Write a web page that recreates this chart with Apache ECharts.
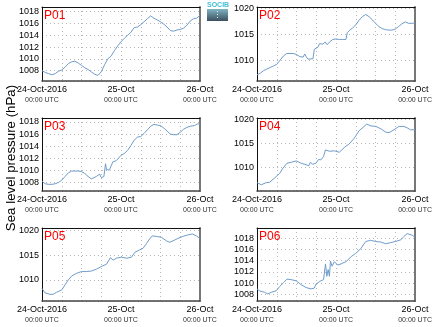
<!DOCTYPE html>
<html><head><meta charset="utf-8">
<script src="https://cdn.jsdelivr.net/npm/echarts@6/dist/echarts.min.js"></script>
<style>html,body{margin:0;padding:0;background:#fff}#c{width:435px;height:327px}</style>
</head><body><div id="c"></div>
<script>
// ---- data (hours since 24-Oct-2016 00:00 UTC, sea level pressure hPa) ----
const panelNames = ['P01','P02','P03','P04','P05','P06'];
const xTickHours = [0, 24, 48];
const xTickDates = ['24-Oct-2016', '25-Oct', '26-Oct'];
const xTickTimes = ['00:00 UTC', '00:00 UTC', '00:00 UTC'];
const yAxisTitle = 'Sea level pressure (hPa)';

const hoursP01 = [0,1,2,3,4,5,6,7,8,9,10,11,12,13,14,15,16,17,18,19,20,21,22,23,24,25,26,27,28,29,30,31,32,33,34,35,36,37,38,39,40,41,42,43,44,45,46,47,48];
const valuesP01 = [1008.0,1007.7,1007.5,1007.3,1007.5,1007.9,1008.1,1008.6,1009.2,1009.5,1009.6,1009.3,1008.9,1008.5,1008.2,1007.8,1007.4,1007.2,1007.8,1009.0,1010.0,1010.5,1011.4,1012.2,1012.9,1013.5,1014.0,1014.5,1015.3,1015.4,1015.8,1016.3,1016.8,1017.3,1016.9,1016.6,1016.3,1015.9,1015.4,1014.8,1014.7,1014.9,1015.0,1015.2,1015.7,1016.4,1016.8,1016.9,1017.4];

const hoursP02 = [0,1,2,3,4,5,6,7,8,9,10,11,12,13,13.5,14,14.5,15,15.5,16,17,17.4,18,18.5,19,19.5,20,20.7,21.3,22,23,24,25,26,27,27.4,28,29,30,31,32,33,34,35,36,37,38,39,40,41,42,43,44,45,46,47,48];
const valuesP02 = [1007.2,1007.5,1008.0,1008.3,1008.6,1008.9,1009.2,1010.0,1010.8,1011.3,1011.3,1011.3,1011.1,1010.7,1010.4,1010.6,1011.2,1010.6,1010.2,1010.1,1010.3,1012.1,1012.3,1012.5,1013.2,1012.9,1013.1,1013.5,1013.0,1013.5,1014.0,1014.1,1014.0,1014.0,1014.0,1015.3,1015.7,1016.2,1016.8,1017.7,1018.4,1018.8,1018.4,1017.8,1017.1,1016.5,1016.1,1015.9,1015.8,1015.8,1016.0,1016.5,1017.0,1017.4,1017.1,1017.1,1017.2];

const hoursP03 = [0,1,2,3,4,5,6,7,8,9,10,11,12,13,14,15,15.6,16.5,17.5,18,18.8,19.3,19.6,20.5,21.5,22.5,23.2,24,25,26,27,28,29,30,31,32,33,34,35,36,37,38,39,40,41,42,43,44,45,45.5,46.3,47.3,48];
const valuesP03 = [1008.2,1007.8,1007.7,1007.7,1007.8,1008.0,1008.4,1009.0,1009.6,1009.9,1009.9,1009.9,1009.8,1009.5,1009.0,1008.6,1008.4,1009.0,1009.4,1008.8,1009.0,1011.1,1010.1,1010.1,1011.4,1011.6,1012.0,1012.5,1012.8,1013.3,1014.1,1015.0,1015.5,1015.6,1016.1,1016.7,1017.3,1017.6,1017.5,1017.4,1017.0,1016.5,1016.0,1015.9,1015.9,1016.3,1016.8,1017.1,1017.3,1017.6,1017.4,1017.7,1017.6];

const hoursP04 = [0,1.3,2.8,3.8,5.3,6.9,7.9,9.1,10.4,11.9,13.4,14.9,15.7,16.2,16.9,17.9,18.7,19.4,20.2,20.8,22,23.5,25,26.5,28,29.5,31,32.2,33.3,34.6,36.1,37.6,39.1,40.1,41.6,43.1,44.6,45.6,46.6,48];
const valuesP04 = [1006.85,1006.4,1006.85,1006.9,1007.8,1008.8,1009.9,1010.9,1011.1,1011.4,1010.9,1010.6,1010.35,1011.1,1010.7,1010.9,1011.7,1011.6,1012.3,1013.7,1013.4,1013.5,1013.2,1014.2,1014.95,1016.1,1017.7,1018.4,1019.1,1018.7,1018.6,1018.1,1017.4,1017.3,1017.9,1018.6,1018.6,1018.3,1017.9,1017.9];

const hoursP05 = [0,0.9,2.4,3.4,4.4,6,7,8,9,10.5,12,13.5,15,16.6,18,19.6,20.8,21.6,22.6,24.1,25.7,26.2,27.2,28.2,29.7,30.7,31.8,32.7,33.5,34.8,36.3,37.8,38.8,39.8,41.3,42.8,44.3,45.7,46.9,48];
const valuesP05 = [1008.3,1007.4,1007.1,1007.1,1007.5,1008.0,1009.0,1010.0,1010.8,1011.35,1011.7,1011.7,1011.8,1012.2,1012.7,1013.2,1014.5,1014.0,1014.4,1014.6,1014.4,1014.2,1014.6,1015.6,1016.1,1016.4,1017.4,1018.3,1018.9,1018.8,1018.6,1017.9,1017.6,1017.9,1018.4,1018.8,1019.1,1019.3,1018.9,1018.4];

const hoursP06 = [0,0.8,2.3,3.3,4.3,5.8,6.9,8.1,9.1,10.4,11.9,13.4,14.9,16.4,17.4,17.9,19.1,20.2,20.5,20.8,21.2,21.6,22,22.3,22.8,23.5,24.5,25.5,27,28.6,30,31.5,33,34.5,36,37.6,39.1,40.6,42.1,43.7,44.6,45.6,46.2,47.2,48];
const valuesP06 = [1008.95,1008.6,1008.35,1008.05,1008.35,1008.6,1009.4,1010.1,1010.7,1010.6,1010.4,1009.7,1009.2,1008.95,1009.1,1009.8,1010.3,1010.6,1010.9,1013.4,1011.2,1012.4,1011.2,1013.9,1013.0,1013.8,1013.2,1013.4,1013.8,1014.7,1015.3,1016.1,1017.4,1017.6,1017.4,1017.3,1017.0,1017.2,1017.4,1017.7,1018.3,1018.8,1018.5,1018.5,1018.1];

const yMins = [1006.25, 1006.0, 1006.6, 1005.1, 1005.75, 1006.8];
const yMaxs = [1018.8, 1020.25, 1018.66, 1020.36, 1020.5, 1019.8];
const yIntervals = [2, 5, 2, 5, 5, 2];

const allHours = [hoursP01, hoursP02, hoursP03, hoursP04, hoursP05, hoursP06];
const allValues = [valuesP01, valuesP02, valuesP03, valuesP04, valuesP05, valuesP06];

// ---- layout / style ----
const gridBoxes = [
  {left: 42, top: 7, width: 158, height: 74},
  {left: 257, top: 7, width: 159, height: 74},
  {left: 42, top: 118, width: 158, height: 73},
  {left: 257, top: 118, width: 159, height: 73},
  {left: 42, top: 228, width: 158, height: 73},
  {left: 257, top: 228, width: 159, height: 73}
];
const FONT = 'Liberation Sans, Arial, Helvetica, sans-serif';
const lineColor = '#6f9cca';
const dotted = {show: true, lineStyle: {type: [1, 3], color: '#b8b8b8', width: 1}};

const grid = [], xAxis = [], yAxis = [], series = [], title = [];
for (let i = 0; i < 6; i++) {
  const g = gridBoxes[i];
  grid.push(Object.assign({containLabel: false, show: false}, g));
  xAxis.push({
    type: 'value', gridIndex: i, min: 0, max: 48, interval: 6, position: 'bottom',
    axisLine: {show: true, onZero: false, lineStyle: {color: '#444', width: 1.5}},
    axisTick: {show: false},
    splitLine: dotted,
    axisLabel: {
      show: true, margin: 3, showMinLabel: true, showMaxLabel: true, fontFamily: FONT,
      formatter: function (v) {
        const k = xTickHours.indexOf(v);
        if (k < 0) return '';
        return '{a|' + xTickDates[k] + '}\n{b|' + xTickTimes[k] + '}';
      },
      rich: {
        a: {fontSize: 9, color: '#000', lineHeight: 11, fontFamily: FONT},
        b: {fontSize: 7, color: '#333', lineHeight: 10, fontFamily: FONT}
      }
    }
  });
  xAxis.push({
    type: 'value', gridIndex: i, min: 0, max: 48, position: 'top',
    axisLine: {show: true, onZero: false, lineStyle: {color: '#111', width: 1}},
    axisTick: {show: false}, axisLabel: {show: false}, splitLine: {show: false}
  });
  yAxis.push({
    type: 'value', gridIndex: i, min: yMins[i], max: yMaxs[i], splitNumber: 5,
    minInterval: yIntervals[i], maxInterval: yIntervals[i], position: 'left',
    axisLine: {show: true, onZero: false, lineStyle: {color: '#111', width: 1}},
    axisTick: {show: false},
    splitLine: dotted,
    axisLabel: {show: true, margin: 3, fontSize: 9, color: '#000', fontFamily: FONT,
      showMinLabel: false, showMaxLabel: false,
      formatter: function (v) { return String(Math.round(v)); }}
  });
  yAxis.push({
    type: 'value', gridIndex: i, min: yMins[i], max: yMaxs[i], position: 'right',
    axisLine: {show: true, onZero: false, lineStyle: {color: '#777', width: 2}},
    axisTick: {show: false}, axisLabel: {show: false}, splitLine: {show: false}
  });
  series.push({
    type: 'line', xAxisIndex: 2 * i, yAxisIndex: 2 * i,
    data: allHours[i].map((h, j) => [h, allValues[i][j]]),
    showSymbol: false, symbol: 'none', silent: true, animation: false,
    lineStyle: {color: lineColor, width: 1}
  });
  title.push({
    text: panelNames[i], left: g.left + 2, top: g.top + 2.5, padding: 0,
    textStyle: {color: '#ff0000', fontSize: 12, fontWeight: 'normal', fontFamily: FONT}
  });
}

const chart = echarts.init(document.getElementById('c'), null, {renderer: 'canvas'});
chart.setOption({
  animation: false,
  backgroundColor: '#fff',
  title: title,
  grid: grid, xAxis: xAxis, yAxis: yAxis, series: series,
  graphic: [
    {type: 'text', x: 11, y: 158, rotation: Math.PI / 2,
      style: {text: yAxisTitle, fontSize: 13.3, fill: '#000', fontFamily: FONT, align: 'center', verticalAlign: 'middle'}},
    {type: 'text', x: 207, y: 2,
      style: {text: 'SOCIB', fontSize: 7, fontWeight: 'bold', fill: '#43bfd6', fontFamily: FONT}},
    {type: 'rect', shape: {x: 207, y: 9, width: 21, height: 12},
      style: {fill: new echarts.graphic.LinearGradient(0, 0, 0, 1, [
        {offset: 0, color: '#7fb4c2'}, {offset: 1, color: '#3b4f5e'}])}},
    {type: 'line', shape: {x1: 217.5, y1: 11, x2: 217.5, y2: 20},
      style: {stroke: '#e8f2f5', lineWidth: 1, lineDash: [1, 2]}}
  ]
});
</script>
</body></html>
